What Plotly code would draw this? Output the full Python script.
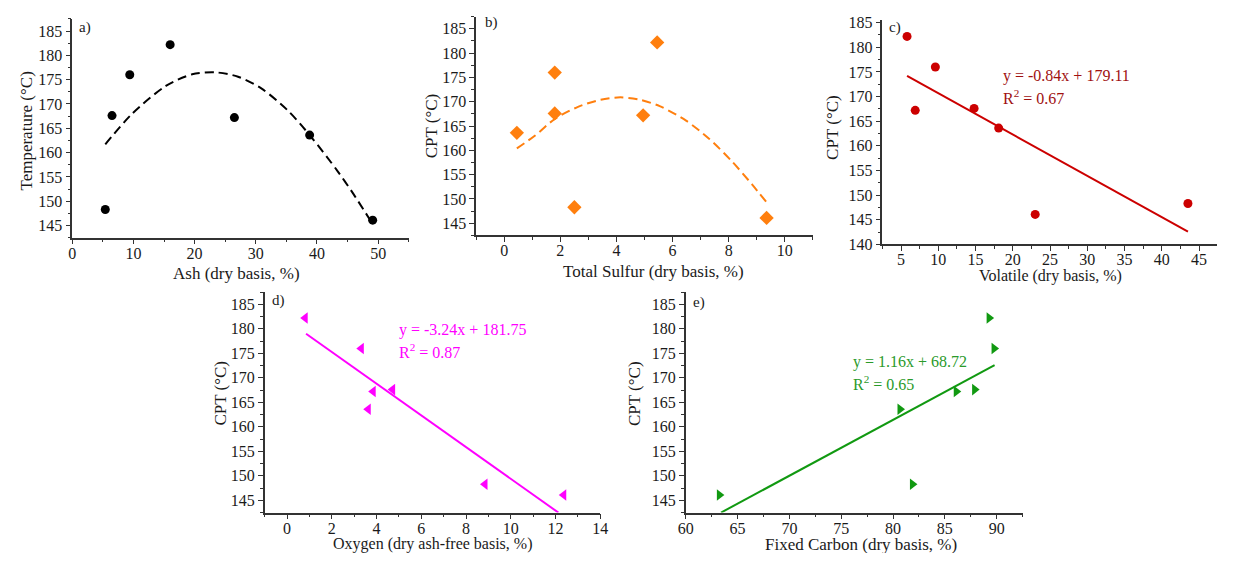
import plotly.graph_objects as go

# The page keeps the browser's default 8px body margin on every side, so the figure is
# sized to make the whole page exactly 1233x561, and reference pixels are shifted by 8.
OFF = 8
W, H = 1233 - 2 * OFF, 561 - 2 * OFF
FONT = "Liberation Serif"

# ---------------- data ----------------
# a) Ash vs temperature
ash = [5.4, 6.5, 9.4, 16.0, 26.5, 38.8, 49.1]
cpt_a = [148.3, 167.6, 176.0, 182.2, 167.2, 163.6, 146.1]
fit_a_x = [5.4, 9.8, 15.3, 19.6, 23.4, 27.1, 30.9, 35.2, 39.0, 43.3, 46.0, 48.6]
fit_a_y = [161.7, 168.0, 173.7, 176.1, 176.5, 175.6, 173.2, 168.7, 163.3, 156.3, 151.4, 146.3]

# b) Total sulfur
sulfur = [0.45, 1.8, 1.8, 2.5, 4.95, 5.45, 9.35]
cpt_b = [163.6, 176.0, 167.6, 148.3, 167.2, 182.2, 146.1]
fit_b_x = [0.45, 1.09, 1.79, 2.61, 3.43, 4.14, 4.84, 5.54, 6.48, 7.3, 8.12, 8.83, 9.35]
fit_b_y = [160.4, 163.0, 166.4, 168.9, 170.4, 170.9, 170.4, 169.1, 166.1, 162.4, 157.7, 153.0, 149.3]

# c) Volatile
volatile = [5.8, 9.6, 6.9, 14.8, 18.1, 23.0, 43.5]
cpt_c = [182.2, 176.0, 167.2, 167.6, 163.6, 146.1, 148.3]
fit_c_x = [5.8, 43.5]
fit_c_y = [174.2, 142.6]

# d) Oxygen
oxygen = [0.81, 3.32, 3.85, 4.72, 3.63, 8.85, 12.37]
cpt_d = [182.2, 176.0, 167.2, 167.6, 163.6, 148.3, 146.1]
fit_d_x = [0.85, 12.13]
fit_d_y = [179.0, 142.5]

# e) Fixed carbon
fixed_c = [63.24, 80.67, 81.87, 86.1, 87.87, 89.27, 89.75]
cpt_e = [146.1, 163.6, 148.3, 167.2, 167.6, 182.2, 176.0]
fit_e_x = [63.4, 89.8]
fit_e_y = [142.5, 172.6]

# ---------------- layout helpers ----------------
def px(p):
    return min(max((p - OFF) / W, 0.0), 1.0)

def py(p):
    return min(max(1 - (p - OFF) / H, 0.0), 1.0)

def xd(p0, p1):
    return [px(p0), px(p1)]

def yd(top, bottom):
    return [py(bottom), py(top)]

panels = [
    dict(n="", xdom=(65, 406), ydom=(13, 238), xr=[0, 55], yr=[142.5, 187.5], xdt=10, ydt=5, x0=0, y0=145),
    dict(n="2", xdom=(474.3, 815.5), ydom=(10.7, 235.7), xr=[-1, 11], yr=[142.5, 187.5], xdt=2, ydt=5, x0=0, y0=145),
    dict(n="3", xdom=(886, 1225), ydom=(14.3, 245), xr=[2.5, 47.4], yr=[140, 185.5], xdt=5, ydt=5, x0=5, y0=140),
    dict(n="4", xdom=(260, 600), ydom=(294, 520.7), xr=[-1, 14], yr=[142.5, 187.5], xdt=2, ydt=5, x0=0, y0=145),
    dict(n="5", xdom=(686.7, 1028), ydom=(294, 520.7), xr=[60, 92.5], yr=[142.5, 187.5], xdt=5, ydt=5, x0=60, y0=145),
]

fig = go.Figure()

AX = dict(showline=True, linecolor="#333333", linewidth=1.5, showgrid=False, zeroline=False,
          ticks="outside", ticklen=5, tickwidth=1.2, tickcolor="#333333",
          tickfont=dict(family=FONT, size=16, color="#1a1a1a"), mirror=False)

for p in panels:
    n = p["n"]
    xa = dict(AX, domain=xd(*p["xdom"]), range=p["xr"], tick0=p["x0"], dtick=p["xdt"],
              anchor="y" + n, ticklabelstandoff=-5,
              minor=dict(ticks="outside", ticklen=3, tickwidth=1.2,
                         tickcolor="#333333", dtick=p["xdt"] / 2, tick0=p["x0"]))
    ya = dict(AX, domain=yd(*p["ydom"]), range=p["yr"], tick0=p["y0"], dtick=p["ydt"],
              anchor="x" + n, ticklabelstandoff=0,
              minor=dict(ticks="outside", ticklen=3, tickwidth=1.2,
                         tickcolor="#333333", dtick=p["ydt"] / 2, tick0=p["y0"]))
    fig.update_layout(**{"xaxis" + n: xa, "yaxis" + n: ya})

def add(x, y, n, **kw):
    fig.add_trace(go.Scatter(x=x, y=y, xaxis="x" + n, yaxis="y" + n, showlegend=False,
                             hoverinfo="skip", **kw))

add(fit_a_x, fit_a_y, "", mode="lines", line=dict(color="black", width=2, dash="9px,5px", shape="spline", smoothing=0.8))
add(ash, cpt_a, "", mode="markers", marker=dict(symbol="circle", size=9, color="black"))

add(fit_b_x, fit_b_y, "2", mode="lines", line=dict(color="#FF7F0E", width=2, dash="9px,5px", shape="spline", smoothing=0.8))
add(sulfur, cpt_b, "2", mode="markers", marker=dict(symbol="diamond", size=11, color="#FF7F0E"))

add(fit_c_x, fit_c_y, "3", mode="lines", line=dict(color="#CC0000", width=2))
add(volatile, cpt_c, "3", mode="markers", marker=dict(symbol="circle", size=9, color="#CC0000"))

add(fit_d_x, fit_d_y, "4", mode="lines", line=dict(color="#FF00FF", width=2))
add(oxygen, cpt_d, "4", mode="markers", marker=dict(symbol="triangle-left", size=10, color="#FF00FF"))

add(fit_e_x, fit_e_y, "5", mode="lines", line=dict(color="#119911", width=2))
add(fixed_c, cpt_e, "5", mode="markers", marker=dict(symbol="triangle-right", size=10, color="#119911"))

def ann(text, x, y, size=16, color="#1a1a1a", xanchor="center", textangle=0):
    fig.add_annotation(text=text, x=px(x), y=py(y), xref="paper", yref="paper",
                       showarrow=False, xanchor=xanchor, yanchor="middle", textangle=textangle,
                       font=dict(family=FONT, size=size, color=color))

# x titles
ann("Ash (dry basis, %)", 231, 275, size=17)
ann("Total Sulfur (dry basis, %)", 654, 273, size=17)
ann("Volatile (dry basis, %)", 1056, 277, size=16)
ann("Oxygen (dry ash-free basis, %)", 430, 554, size=16)
ann("Fixed Carbon (dry basis, %)", 864, 554, size=17)
# y titles
ann("Temperature (°C)", 19, 128, size=17, textangle=-90)
ann("CPT (°C)", 429, 123, size=17, textangle=-90)
ann("CPT (°C)", 836, 125, size=17, textangle=-90)
ann("CPT (°C)", 215, 398, size=17, textangle=-90)
ann("CPT (°C)", 635, 398, size=17, textangle=-90)
# panel labels
ann("a)", 70, 22, size=15, xanchor="left")
ann("b)", 481, 17, size=15, xanchor="left")
ann("c)", 891, 22, size=15, xanchor="left")
ann("d)", 265, 303, size=15, xanchor="left")
ann("e)", 692, 305, size=15, xanchor="left")
# equations
ann("y = -0.84x + 179.11", 1006, 72, size=16, color="#A01010", xanchor="left")
ann("R<sup>2</sup> = 0.67", 1006, 93, size=16, color="#A01010", xanchor="left")
ann("y = -3.24x + 181.75", 394, 333, size=16, color="#FF00FF", xanchor="left")
ann("R<sup>2</sup> = 0.87", 394, 355, size=16, color="#FF00FF", xanchor="left")
ann("y = 1.16x + 68.72", 854, 366, size=16, color="#2A9A2A", xanchor="left")
ann("R<sup>2</sup> = 0.65", 854, 387, size=16, color="#2A9A2A", xanchor="left")

fig.update_layout(width=W, height=H, margin=dict(l=0, r=0, t=0, b=0),
                  plot_bgcolor="white", paper_bgcolor="white",
                  font=dict(family=FONT))

fig.write_html("out.html")
